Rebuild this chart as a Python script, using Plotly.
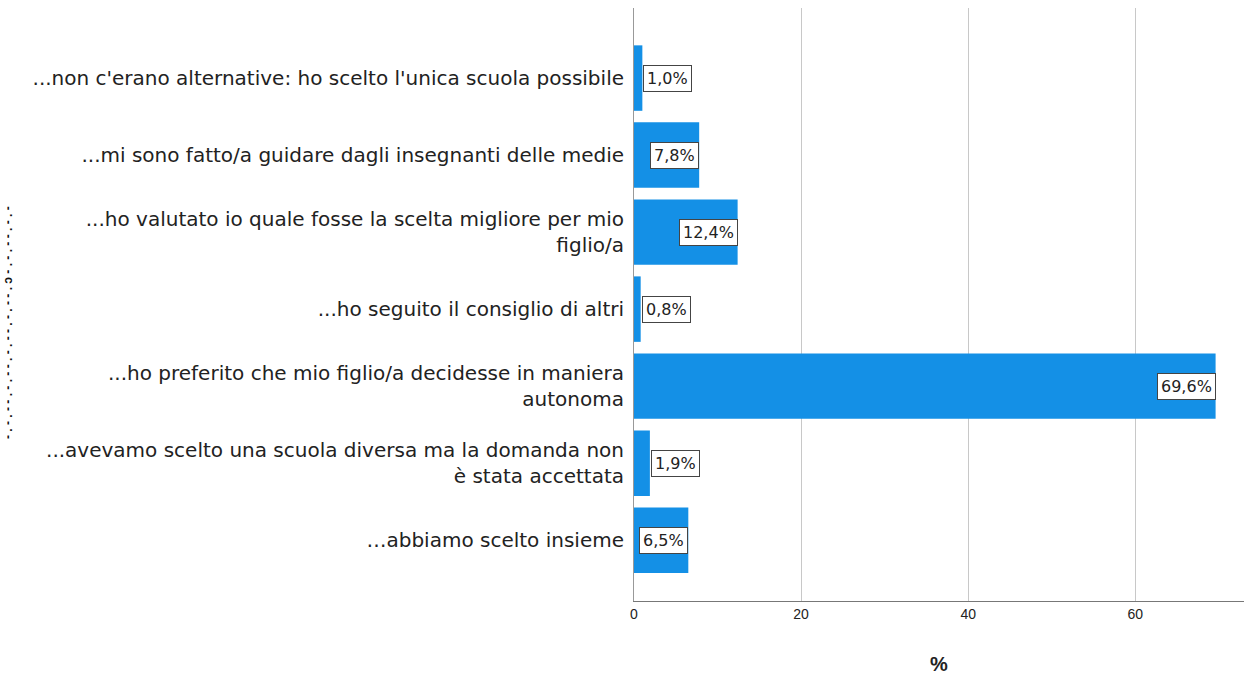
import plotly.graph_objects as go

categories = [
    "...non c'erano alternative: ho scelto l'unica scuola possibile",
    "...mi sono fatto/a guidare dagli insegnanti delle medie",
    "...ho valutato io quale fosse la scelta migliore per mio<br>figlio/a",
    "...ho seguito il consiglio di altri",
    "...ho preferito che mio figlio/a decidesse in maniera<br>autonoma",
    "...avevamo scelto una scuola diversa ma la domanda non<br>è stata accettata",
    "…abbiamo scelto insieme",
]
percent = [1.0, 7.8, 12.4, 0.8, 69.6, 1.9, 6.5]
value_labels = ["1,0%", "7,8%", "12,4%", "0,8%", "69,6%", "1,9%", "6,5%"]
x_ticks = [0, 20, 40, 60]

BAR = "#1490E6"
FONT = "Liberation Sans, Arial, sans-serif"
WIDE = "DejaVu Sans, Verdana, sans-serif"

W, H = 1244, 675
M_L, M_R, M_T, M_B = 634, 0, 8, 74
plot_w = W - M_L - M_R
plot_h = H - M_T - M_B

idx = list(range(len(categories)))

fig = go.Figure(
    go.Bar(
        x=percent,
        y=idx,
        orientation="h",
        marker=dict(color=BAR, line=dict(width=0)),
        width=0.85,
        hoverinfo="skip",
    )
)

x_max = 73.0
px_per_unit = plot_w / x_max

annotations = []
for i, (v, lab) in enumerate(zip(percent, value_labels)):
    label_w = 10.0 * len(lab) + 8
    inside = v * px_per_unit > label_w
    annotations.append(
        dict(
            x=v,
            y=i,
            xref="x",
            yref="y",
            text=lab,
            showarrow=False,
            xanchor="right" if inside else "left",
            xshift=0 if inside else 1,
            font=dict(family=WIDE, size=16, color="#222222"),
            bgcolor="white",
            bordercolor="#444444",
            borderwidth=1,
            borderpad=3,
        )
    )

# truncated vertical axis title on the far left
title_px_x, title_px_y = 8, 323
annotations.append(
    dict(
        x=(title_px_x - M_L) / plot_w,
        y=1 - (title_px_y - M_T) / plot_h,
        xref="paper",
        yref="paper",
        text="<b>- . - . - - . - . - - . - . - - . - . - - . ɔ - . - . - - . - . -</b>",
        showarrow=False,
        textangle=-90,
        font=dict(family=FONT, size=12, color="#111111"),
        xanchor="center",
        yanchor="middle",
    )
)

fig.update_layout(
    width=W,
    height=H,
    margin=dict(l=M_L, r=M_R, t=M_T, b=M_B),
    plot_bgcolor="white",
    paper_bgcolor="white",
    showlegend=False,
    bargap=0.15,
    font=dict(family=FONT, size=17, color="#222222"),
    annotations=annotations,
    xaxis=dict(
        range=[0, x_max],
        tickvals=x_ticks,
        ticktext=[str(t) for t in x_ticks],
        showgrid=True,
        gridcolor="#c8c8c8",
        gridwidth=1,
        zeroline=False,
        showline=True,
        linecolor="#777777",
        linewidth=1,
        ticks="",
        tickfont=dict(family=FONT, size=14, color="#222222"),
        title=dict(text="<b>%</b>", font=dict(family=FONT, size=20, color="#222222"), standoff=37),
        fixedrange=True,
    ),
    yaxis=dict(
        range=[6.79, -0.91],
        tickvals=idx,
        ticktext=categories,
        showgrid=False,
        zeroline=False,
        showline=True,
        linecolor="#999999",
        linewidth=1,
        ticks="",
        ticklabelstandoff=5,
        tickfont=dict(family=WIDE, size=20, color="#222222"),
        fixedrange=True,
    ),
)

fig.write_html("out.html")
